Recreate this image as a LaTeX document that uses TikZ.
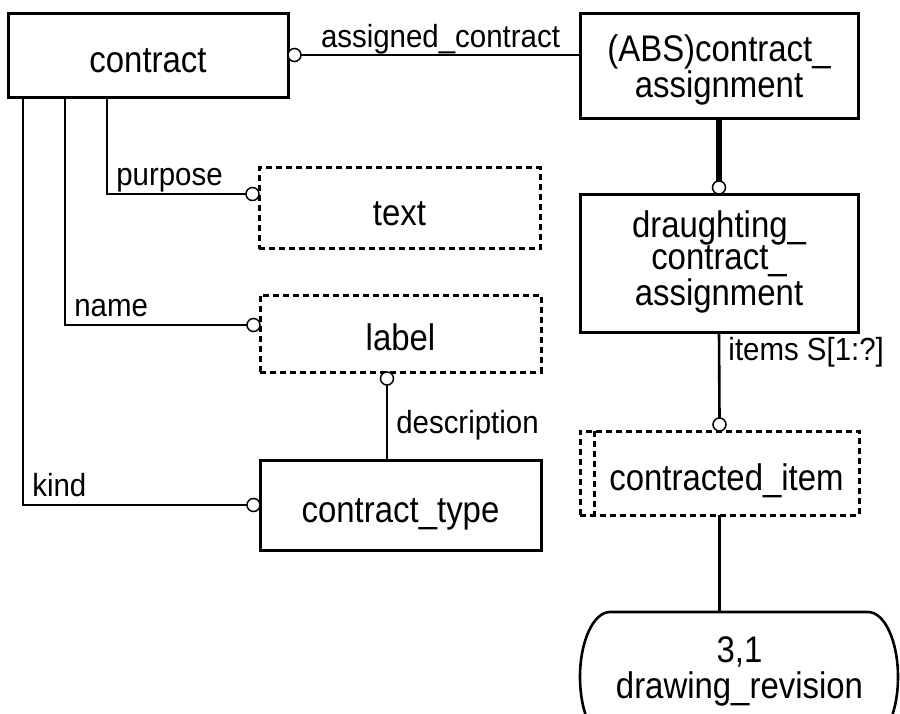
\documentclass[tikz,border=0pt]{standalone}
\usepackage{fontspec}
\setmainfont{Liberation Sans}
\newfontfamily\entfont[FakeStretch=0.89]{Liberation Sans}
\newfontfamily\attrfont[FakeStretch=0.92]{Liberation Sans}
\begin{document}
\begin{tikzpicture}
[x=1pt,y=-1pt,
 entity/.style={draw,line width=3pt,inner sep=0pt,outer sep=0pt,align=center,
   font=\entfont\fontsize{37}{29}\selectfont,text height=34pt,text depth=0pt},
 deftype/.style={entity,dash pattern=on 6pt off 4pt},
 ring/.style={circle,draw,fill=white,line width=1.5pt,inner sep=0pt,outer sep=0pt,minimum size=13pt},
 rel/.style={line width=2.6pt},
 thickrel/.style={line width=6pt},
 attr/.style={font=\attrfont\fontsize{32}{34}\selectfont,inner sep=0pt,anchor=base west}]
%% page frame
\useasboundingbox (0,0) rectangle (900,713);
\clip (0,0) rectangle (900,713);
%% entities and defined types
\node[entity,minimum width=280pt,minimum height=84pt] (contract) at (148,55) {contract};
\node[entity,minimum width=278pt,minimum height=105pt,text height=63pt] (abs) at (719,65.5)
  {(ABS)contract\_\\assignment};
\node[deftype,minimum width=281pt,minimum height=81pt] (text) at (399.5,208) {text};
\node[deftype,minimum width=281pt,minimum height=77pt] (label) at (400.5,333.5) {label};
\node[entity,minimum width=281pt,minimum height=90pt] (ctype) at (400.5,505) {contract\_type};
\node[entity,minimum width=278pt,minimum height=138pt,text height=84pt] (dca) at (719,263)
  {draughting\_\\contract\_\\assignment};
\node[deftype,minimum width=279pt,minimum height=84pt] (item) at (719.5,473)
  {\hspace*{14pt}contracted\_item};
\draw[line width=3pt,dash pattern=on 6pt off 4pt]
  ([xshift=14pt]item.north west) -- ([xshift=14pt]item.south west);
%% page reference
\node[inner sep=0pt,outer sep=0pt,align=center,font=\entfont\fontsize{37}{36}\selectfont,
  minimum width=317pt,minimum height=130pt,text height=42pt,text depth=0pt]
  (rev) at (739.5,677) {3,1\\drawing\_revision};
\draw[rel] (610,612) -- (868,612)
  arc[start angle=90,end angle=-90,x radius=30pt,y radius=65pt] -- (610,742)
  arc[start angle=270,end angle=90,x radius=30pt,y radius=65pt] -- cycle;
%% relationship ends
\node[ring,anchor=west] (rasg) at (contract.east) {};
\node[ring,anchor=east] (rpur) at ([yshift=14pt]text.west) {};
\node[ring,anchor=east] (rnam) at ([yshift=8.5pt]label.west) {};
\node[ring,anchor=east] (rkin) at (ctype.west) {};
\node[ring,anchor=north] (rdes) at ([xshift=-13.5pt]label.south) {};
\node[ring,anchor=south] (rdca) at (dca.north) {};
\node[ring,anchor=south] (ritm) at (item.north) {};
%% relationships
\draw[rel] (rasg.east) -- (rasg.east -| abs.west)
  node[midway,attr,anchor=base,yshift=8pt] {assigned\_contract};
\draw[rel] ([xshift=99pt]contract.south west) |-
  node[attr,xshift=8pt,yshift=8.5pt] {purpose} (rpur.west);
\draw[rel] ([xshift=57pt]contract.south west) |-
  node[attr,xshift=8pt,yshift=8.5pt] {name} (rnam.west);
\draw[rel] ([xshift=15pt]contract.south west) |-
  node[attr,xshift=8pt,yshift=8.5pt] {kind} (rkin.west);
\draw[rel] (rdes.south) --
  node[attr,pos=0.645,xshift=8pt] {description} (rdes.south |- ctype.north);
\draw[thickrel] (abs.south) -- (rdca.north);
\draw[rel] (dca.south) --
  node[attr,pos=0.326,xshift=8pt] {items S[1:?]} (ritm.north);
\draw[rel] (item.south) -- (item.south |- rev.north);
\end{tikzpicture}
\end{document}
